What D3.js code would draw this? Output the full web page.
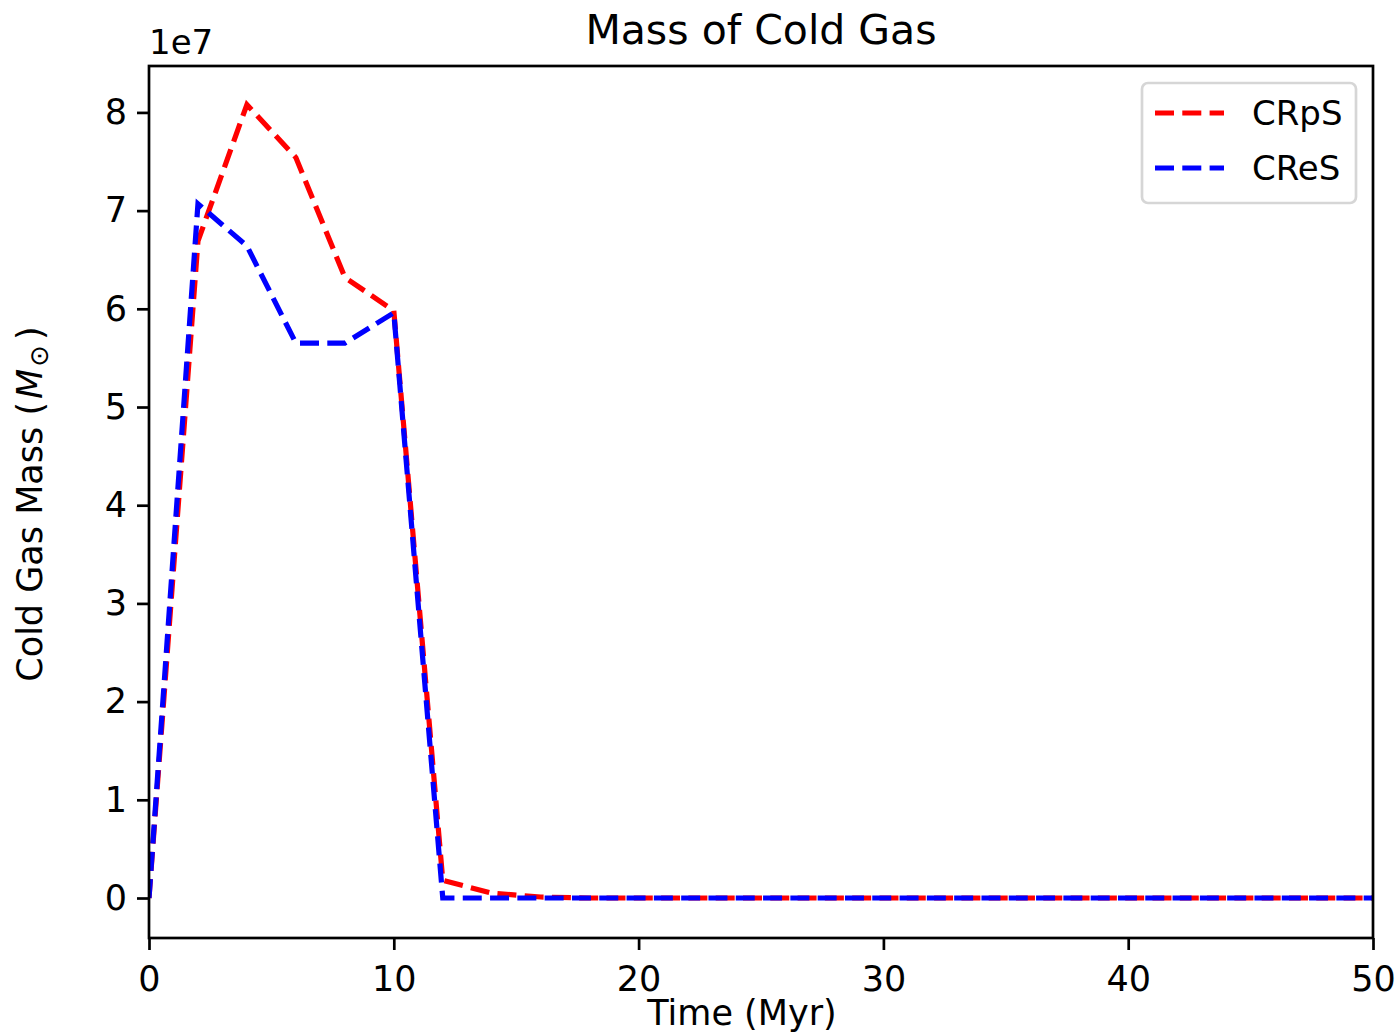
<!DOCTYPE html>
<html>
<head>
<meta charset="utf-8">
<script src="https://cdn.jsdelivr.net/npm/d3@7"></script>
<style>
  body { margin: 0; background: white; }
  svg text { font-family: "DejaVu Sans", sans-serif; fill: black; }
</style>
</head>
<body>
<div id="chart"></div>
<script>
// time in Myr, values in units of 1e7 solar masses
var timeMyr = [0, 2, 4, 6, 8, 10, 12, 14, 16, 18, 20, 22, 24, 26, 28, 30, 32, 34, 36, 38, 40, 42, 44, 46, 48, 50];
var crpsMass = [0, 6.69, 8.08, 7.54, 6.32, 5.98, 0.18, 0.05, 0.01, 0, 0, 0, 0, 0, 0, 0, 0, 0, 0, 0, 0, 0, 0, 0, 0, 0];
var cresMass = [0, 7.07, 6.64, 5.65, 5.65, 5.96, 0, 0, 0, 0, 0, 0, 0, 0, 0, 0, 0, 0, 0, 0, 0, 0, 0, 0, 0, 0];
var seriesNames = ["CRpS", "CReS"];
var seriesColors = ["#ff0000", "#0000ff"];
var xTicks = [0, 10, 20, 30, 40, 50];
var yTicks = [0, 1, 2, 3, 4, 5, 6, 7, 8];

var width = 1398, height = 1035;
var plotLeft = 149, plotRight = 1373, plotTop = 66, plotBottom = 938;

var svg = d3.select("#chart").append("svg")
    .attr("width", width)
    .attr("height", height);

var x = d3.scaleLinear().domain([0, 50]).range([plotLeft, plotRight]);
var y = d3.scaleLinear().domain([-0.4073, 8.4727]).range([plotBottom, plotTop]);

var series = [crpsMass, cresMass];

var line = d3.line()
    .x(function (d, i) { return x(timeMyr[i]); })
    .y(function (d) { return y(d); });

svg.append("clipPath").attr("id", "clip")
    .append("rect")
    .attr("x", plotLeft).attr("y", plotTop)
    .attr("width", plotRight - plotLeft).attr("height", plotBottom - plotTop);

var plot = svg.append("g").attr("clip-path", "url(#clip)");

series.forEach(function (s, k) {
    plot.append("path")
        .datum(s)
        .attr("d", line)
        .attr("fill", "none")
        .attr("stroke", seriesColors[k])
        .attr("stroke-width", 5.2)
        .attr("stroke-dasharray", "19,8.3");
});

// axes
var xAxis = d3.axisBottom(x).tickValues(xTicks).tickSize(12).tickPadding(16);
var yAxis = d3.axisLeft(y).tickValues(yTicks).tickSize(12).tickPadding(10);

var gx = svg.append("g")
    .attr("transform", "translate(0," + plotBottom + ")")
    .call(xAxis);
var gy = svg.append("g")
    .attr("transform", "translate(" + plotLeft + ",0)")
    .call(yAxis);

[gx, gy].forEach(function (g) {
    g.select(".domain").remove();
    g.selectAll(".tick line").attr("stroke", "black").attr("stroke-width", 2.7);
    g.selectAll(".tick text")
        .style("font-family", "DejaVu Sans, sans-serif")
        .style("font-size", "35px")
        .attr("fill", "black");
});

svg.append("rect")
    .attr("x", plotLeft).attr("y", plotTop)
    .attr("width", plotRight - plotLeft).attr("height", plotBottom - plotTop)
    .attr("fill", "none")
    .attr("stroke", "black")
    .attr("stroke-width", 2.7);

// offset text
svg.append("text")
    .attr("x", plotLeft)
    .attr("y", 54)
    .style("font-size", "34px")
    .text("1e7");

// title
svg.append("text")
    .attr("x", (plotLeft + plotRight) / 2)
    .attr("y", 44)
    .attr("text-anchor", "middle")
    .style("font-size", "41px")
    .text("Mass of Cold Gas");

// x label
svg.append("text")
    .attr("x", 742)
    .attr("y", 1025)
    .attr("text-anchor", "middle")
    .style("font-size", "35px")
    .text("Time (Myr)");

// y label
var yl = svg.append("text")
    .attr("transform", "translate(42,504) rotate(-90)")
    .attr("text-anchor", "middle")
    .style("font-size", "35px");
yl.append("tspan").text("Cold Gas Mass (");
yl.append("tspan").attr("dx", 3).style("font-style", "italic").text("M");
yl.append("tspan").attr("dx", 2).attr("dy", 6).style("font-size", "26px").text("\u2299");
yl.append("tspan").attr("dx", 5).attr("dy", -6).text(")");

// legend
var legend = svg.append("g");
legend.append("rect")
    .attr("x", 1142).attr("y", 83)
    .attr("width", 214).attr("height", 120)
    .attr("rx", 6)
    .attr("fill", "white")
    .attr("stroke", "#d6d6d6")
    .attr("stroke-width", 2.7);

seriesNames.forEach(function (name, k) {
    var ly = 113 + k * 55;
    legend.append("line")
        .attr("x1", 1155).attr("x2", 1224)
        .attr("y1", ly).attr("y2", ly)
        .attr("stroke", seriesColors[k])
        .attr("stroke-width", 5.2)
        .attr("stroke-dasharray", "19,8.3");
    legend.append("text")
        .attr("x", 1252)
        .attr("y", ly + 12)
        .style("font-size", "34px")
        .text(name);
});
</script>
</body>
</html>
